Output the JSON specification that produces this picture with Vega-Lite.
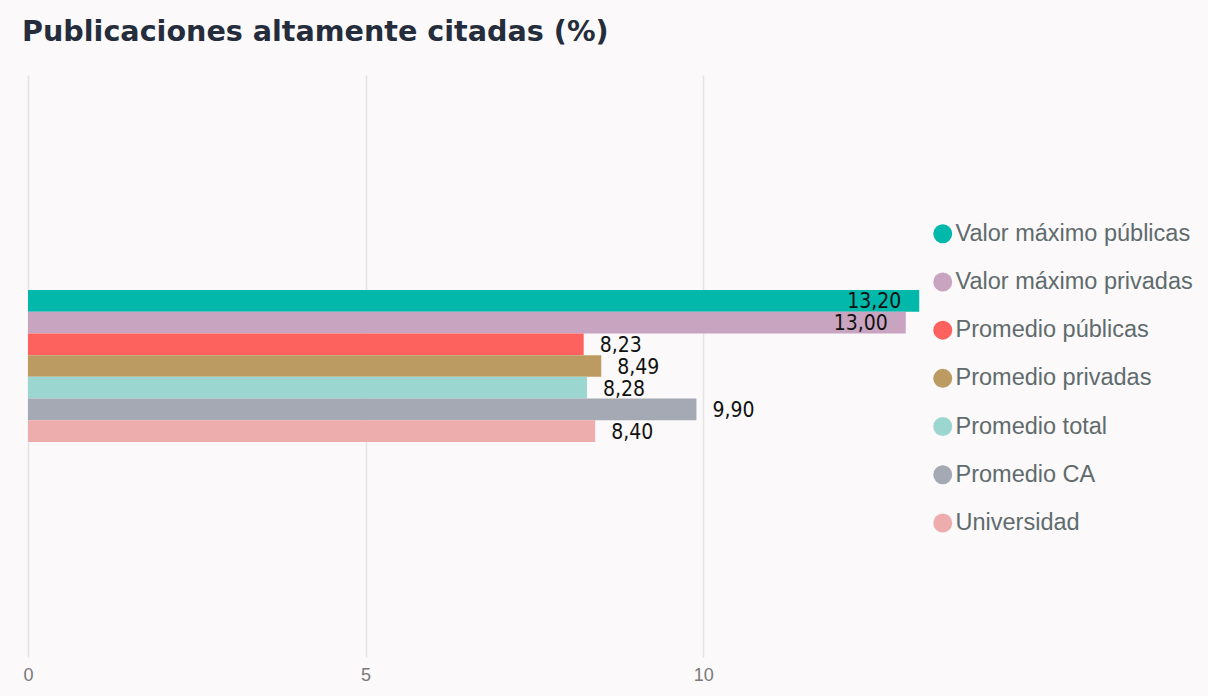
{
  "$schema": "https://vega.github.io/schema/vega-lite/v6.json",
  "autosize": {"type": "none"},
  "width": 898,
  "height": 582,
  "padding": {"left": 28, "top": 75, "right": 282, "bottom": 39},
  "background": "#fbf9fa",
  "title": {
    "text": "Publicaciones altamente citadas (%)",
    "anchor": "start",
    "frame": "group",
    "font": "DejaVu Sans",
    "fontSize": 28.6,
    "fontWeight": "bold",
    "color": "#252d3c",
    "baseline": "alphabetic",
    "offset": 33,
    "dx": -6,
    "dy": 28
  },
  "data": {
    "values": [
      {"grupo": "Publicaciones", "serie": "Valor máximo públicas", "valor": 13.2},
      {"grupo": "Publicaciones", "serie": "Valor máximo privadas", "valor": 13.0},
      {"grupo": "Publicaciones", "serie": "Promedio públicas", "valor": 8.23},
      {"grupo": "Publicaciones", "serie": "Promedio privadas", "valor": 8.49},
      {"grupo": "Publicaciones", "serie": "Promedio total", "valor": 8.28},
      {"grupo": "Publicaciones", "serie": "Promedio CA", "valor": 9.9},
      {"grupo": "Publicaciones", "serie": "Universidad", "valor": 8.4}
    ]
  },
  "encoding": {
    "y": {
      "field": "grupo",
      "type": "nominal",
      "axis": null,
      "scale": {"paddingInner": 0.293, "paddingOuter": 1}
    },
    "yOffset": {
      "field": "serie",
      "type": "nominal",
      "sort": null,
      "scale": {"paddingInner": 0, "paddingOuter": 0}
    },
    "x": {
      "field": "valor",
      "type": "quantitative",
      "scale": {"domain": [0, 13.3], "nice": false},
      "axis": {
        "values": [0, 5, 10],
        "title": null,
        "domain": false,
        "ticks": false,
        "labelFlush": false,
        "labelFont": "Liberation Sans",
        "labelFontSize": 18,
        "labelColor": "#7a7a7a",
        "labelPadding": 9,
        "gridColor": "#e4e4e4",
        "gridWidth": 1.5
      }
    }
  },
  "layer": [
    {
      "mark": {"type": "bar"},
      "encoding": {
        "color": {
          "field": "serie",
          "type": "nominal",
          "sort": null,
          "scale": {
            "domain": ["Valor máximo públicas", "Valor máximo privadas", "Promedio públicas", "Promedio privadas", "Promedio total", "Promedio CA", "Universidad"],
            "range": ["#01b8aa", "#c8a4c1", "#fd625e", "#bc9b62", "#9cd6d0", "#a5a9b4", "#edadad"]
          },
          "legend": {
            "title": null,
            "orient": "none",
            "legendX": 903,
            "legendY": 147,
            "symbolType": "circle",
            "symbolSize": 360,
            "symbolStrokeWidth": 0,
            "labelFont": "Liberation Sans",
            "labelFontSize": 23.5,
            "labelColor": "#5f6b6d",
            "labelOffset": 1,
            "rowPadding": 23.2,
            "labelLimit": 400
          }
        }
      }
    },
    {
      "transform": [{"filter": "datum.valor > 12"}],
      "mark": {
        "type": "text",
        "align": "right",
        "baseline": "middle",
        "dx": -18,
        "dy": 1,
        "font": "DejaVu Sans Condensed",
        "fontSize": 21,
        "color": "#111111"
      },
      "encoding": {
        "text": {"field": "valor", "type": "quantitative", "format": ".2f"}
      }
    },
    {
      "transform": [{"filter": "datum.valor <= 12"}],
      "mark": {
        "type": "text",
        "align": "left",
        "baseline": "middle",
        "dx": 16,
        "dy": 2,
        "font": "DejaVu Sans Condensed",
        "fontSize": 21,
        "color": "#111111"
      },
      "encoding": {
        "text": {"field": "valor", "type": "quantitative", "format": ".2f"}
      }
    }
  ],
  "config": {
    "locale": {
      "number": {"decimal": ",", "thousands": ".", "grouping": [3], "currency": ["", " €"]}
    },
    "view": {"stroke": null}
  }
}
